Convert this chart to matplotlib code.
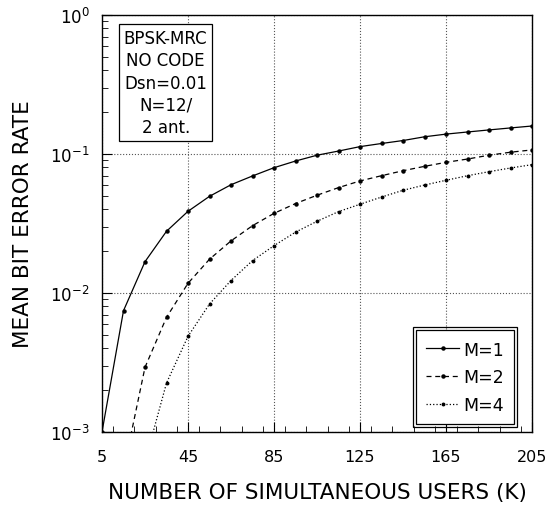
import matplotlib
matplotlib.use("Agg")
import matplotlib.pyplot as plt
from matplotlib.patches import Rectangle
from matplotlib.ticker import FixedLocator, MultipleLocator, LogLocator, NullFormatter

plt.rcParams['font.family'] = ['DejaVu Sans']
plt.rcParams['mathtext.fontset'] = 'dejavusans'

users = [5, 15, 25, 35, 45, 55, 65, 75, 85, 95, 105, 115, 125, 135, 145, 155, 165, 175, 185, 195, 205]
ber_m1 = [1.0e-3, 7.46e-3, 0.0168, 0.0278, 0.0387, 0.0496, 0.0601, 0.0695, 0.0797, 0.089, 0.098,
          0.105, 0.113, 0.119, 0.125, 0.133, 0.139, 0.144, 0.149, 0.154, 0.159]
ber_m2 = [5.3e-4, 2.92e-3, 6.68e-3, 0.01174, 0.0175, 0.0237, 0.0305, 0.0374, 0.044, 0.0505,
          0.0573, 0.064, 0.0698, 0.0758, 0.0815, 0.0871, 0.092, 0.098, 0.103, 0.107]
users_m2 = users[1:]
ber_m4 = [6.1e-4, 2.25e-3, 4.88e-3, 8.33e-3, 0.0123, 0.0171, 0.0219, 0.0274, 0.0328, 0.0385,
          0.0435, 0.049, 0.0548, 0.0598, 0.0647, 0.0698, 0.0746, 0.0793, 0.0838]
users_m4 = users[2:]
labels = ["M=1", "M=2", "M=4"]
xticks = [5, 45, 85, 125, 165, 205]
yticks = [1e-3, 1e-2, 1e-1, 1e0]
ytick_labels = ["$10^{-3}$", "$10^{-2}$", "$10^{-1}$", "$10^{0}$"]
info_text = "BPSK-MRC\nNO CODE\nDsn=0.01\nN=12/\n2 ant."

fig = plt.figure(figsize=(5.48, 5.10), dpi=100)
ax = fig.add_axes([102/548, 77/510, 430/548, 417/510])

ax.plot(users, ber_m1, '-', color='black', lw=0.9, marker='o', ms=2.2, label=labels[0])
ax.plot(users_m2, ber_m2, '--', color='black', lw=0.9, marker='o', ms=2.2, label=labels[1], dashes=(4, 3))
ax.plot(users_m4, ber_m4, ':', color='black', lw=0.9, marker='o', ms=1.8, label=labels[2])

ax.set_yscale('log')
ax.set_xlim(5, 205)
ax.set_ylim(1e-3, 1e0)

ax.xaxis.set_major_locator(FixedLocator(xticks))
ax.xaxis.set_minor_locator(MultipleLocator(10))
ax.set_xticklabels([str(t) for t in xticks], fontsize=11.5)
ax.yaxis.set_major_locator(FixedLocator(yticks))
ax.yaxis.set_minor_locator(LogLocator(base=10, subs=range(2, 10)))
ax.yaxis.set_minor_formatter(NullFormatter())
ax.set_yticklabels(ytick_labels, fontsize=12)

ax.tick_params(which='both', direction='in', top=False, right=False, color='black')
ax.tick_params(which='major', length=7, width=0.8, pad=9)
ax.tick_params(axis='x', which='major', pad=12)
ax.tick_params(which='minor', length=4, width=0.6)

ax.grid(which='major', linestyle=':', color='#555555', lw=0.8)
for s in ax.spines.values():
    s.set_linewidth(1.0)

ax.set_xlabel("NUMBER OF SIMULTANEOUS USERS (K)", fontsize=15.5, labelpad=13)
ax.set_ylabel("MEAN BIT ERROR RATE", fontsize=15.5, labelpad=12)

ax.text(0.148, 0.838, info_text, transform=ax.transAxes, ha='center', va='center',
        fontsize=12, linespacing=1.3,
        bbox=dict(boxstyle='square,pad=0.3', facecolor='white', edgecolor='black', lw=0.9))

leg = ax.legend(loc='lower right', bbox_to_anchor=(0.958, 0.019), borderaxespad=0,
                fontsize=12.5, frameon=True, fancybox=False, edgecolor='black',
                handlelength=1.9, handletextpad=0.2, labelspacing=0.55, borderpad=0.6)
leg.get_frame().set_linewidth(0.9)
leg.get_frame().set_alpha(1.0)

fig.canvas.draw()
bb = leg.get_window_extent()
inv = fig.transFigure.inverted()
(x0, y0), (x1, y1) = inv.transform([[bb.x0 - 3, bb.y0 - 3], [bb.x1 + 3, bb.y1 + 3]])
fig.add_artist(Rectangle((x0, y0), x1 - x0, y1 - y0, transform=fig.transFigure,
                         fill=False, edgecolor='black', lw=0.9, zorder=10))

fig.savefig("out.png", dpi=100)
